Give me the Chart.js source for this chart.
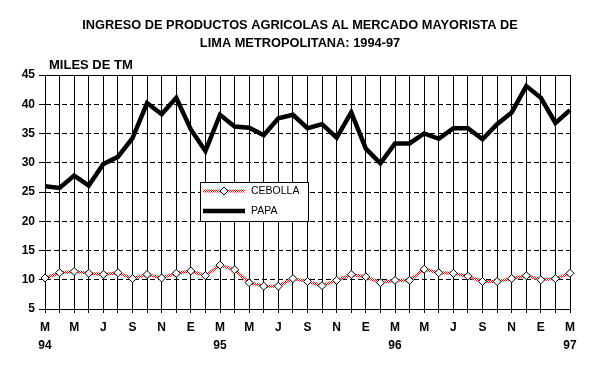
<!DOCTYPE html>
<html>
<head>
<meta charset="utf-8">
<script src="https://cdn.jsdelivr.net/npm/chart.js@4.4.1/dist/chart.umd.min.js"></script>
<style>
  html, body { margin: 0; padding: 0; background: #fff; }
  #wrap { width: 600px; height: 372px; position: relative; }
</style>
</head>
<body>
<div id="wrap"><canvas id="chart" width="600" height="372"></canvas></div>
<script>
// Monthly data, March 1994 - March 1997 (miles de TM)
const titleLines = ['INGRESO DE PRODUCTOS AGRICOLAS AL MERCADO MAYORISTA DE', 'LIMA METROPOLITANA: 1994-97'];
const yAxisTitle = 'MILES DE TM';
const monthLetters = ['M', 'A', 'M', 'J', 'J', 'A', 'S', 'O', 'N', 'D', 'E', 'F',
                      'M', 'A', 'M', 'J', 'J', 'A', 'S', 'O', 'N', 'D', 'E', 'F',
                      'M', 'A', 'M', 'J', 'J', 'A', 'S', 'O', 'N', 'D', 'E', 'F', 'M'];
const yearLabels = { 0: '94', 12: '95', 24: '96', 36: '97' };

const cebolla = [10.3, 11.2, 11.4, 11.1, 10.9, 11.2, 10.2, 10.9, 10.3, 11.1, 11.5, 10.7,
                 12.5, 11.7, 9.5, 8.9, 8.9, 10.2, 9.7, 9.0, 9.9, 10.9, 10.5, 9.5,
                 9.9, 9.9, 11.8, 11.2, 11.1, 10.6, 9.7, 9.7, 10.2, 10.7, 10.0, 10.2, 11.1];
const papa = [26.0, 25.7, 27.8, 26.1, 29.8, 31.0, 34.2, 40.2, 38.3, 41.1, 35.7, 32.0,
              38.2, 36.2, 36.0, 34.7, 37.6, 38.2, 35.9, 36.6, 34.3, 38.6, 32.4, 29.9,
              33.3, 33.3, 35.0, 34.1, 35.9, 35.9, 34.0, 36.6, 38.6, 43.1, 41.1, 36.8, 39.0];

const yMin = 5, yMax = 45, yStep = 5;

// red/white checker pattern like the original dithered line
function checker() {
    const c = document.createElement('canvas');
    c.width = 2; c.height = 2;
    const g = c.getContext('2d');
    g.fillStyle = '#fff'; g.fillRect(0, 0, 2, 2);
    g.fillStyle = '#ff0000';
    g.fillRect(0, 0, 1, 1); g.fillRect(1, 1, 1, 1);
    return g.createPattern(c, 'repeat');
}

const labels = monthLetters.map((m, i) => yearLabels[i] ? [m, yearLabels[i]] : m);

// titles and the legend box drawn on the canvas
const decorations = {
    id: 'decorations',
    afterDraw(chart) {
        const ctx = chart.ctx;
        ctx.save();
        ctx.fillStyle = '#000';
        ctx.textAlign = 'center';
        ctx.textBaseline = 'middle';
        ctx.font = 'bold 12.8px "Liberation Sans", Arial, sans-serif';
        ctx.fillText(titleLines[0], 300, 25);
        ctx.fillText(titleLines[1], 300, 43);
        ctx.textAlign = 'left';
        ctx.font = 'bold 13px "Liberation Sans", Arial, sans-serif';
        ctx.fillText(yAxisTitle, 49, 65);

        // legend
        const bx = 200, by = 182, bw = 108, bh = 39;
        ctx.fillStyle = '#fff';
        ctx.fillRect(bx, by, bw, bh);
        ctx.strokeStyle = '#000';
        ctx.lineWidth = 1;
        ctx.strokeRect(bx + 0.5, by + 0.5, bw, bh);
        const ds = chart.data.datasets;
        const rows = [191, 211];
        ds.forEach((d, i) => {
            const y = rows[i];
            ctx.strokeStyle = d.borderColor;
            ctx.lineWidth = d.borderWidth;
            ctx.beginPath();
            ctx.moveTo(203, y);
            ctx.lineTo(245, y);
            ctx.stroke();
            if (d.pointRadius > 0) {
                ctx.fillStyle = '#fff';
                ctx.strokeStyle = '#000';
                ctx.lineWidth = 1;
                const r = d.pointRadius;
                ctx.beginPath();
                ctx.moveTo(224, y - r); ctx.lineTo(224 + r, y);
                ctx.lineTo(224, y + r); ctx.lineTo(224 - r, y);
                ctx.closePath();
                ctx.fill(); ctx.stroke();
            }
            ctx.fillStyle = '#000';
            ctx.font = '10.5px "Liberation Sans", Arial, sans-serif';
            ctx.fillText(d.label, 251, y + 0.5);
        });
        ctx.restore();
    }
};

new Chart(document.getElementById('chart').getContext('2d'), {
    type: 'line',
    data: {
        labels: labels,
        datasets: [{
            label: 'CEBOLLA',
            data: cebolla,
            borderColor: checker(),
            borderWidth: 3,
            tension: 0,
            pointStyle: 'rectRot',
            pointRadius: 4,
            pointBackgroundColor: '#fff',
            pointBorderColor: '#000',
            pointBorderWidth: 1
        }, {
            label: 'PAPA',
            data: papa,
            borderColor: '#000',
            borderWidth: 4.5,
            tension: 0,
            pointRadius: 0,
            borderJoinStyle: 'miter'
        }]
    },
    options: {
        responsive: false,
        animation: false,
        layout: { padding: { top: 75, right: 30, left: 0, bottom: 0 } },
        plugins: {
            legend: { display: false },
            title: { display: false },
            tooltip: { enabled: false }
        },
        scales: {
            x: {
                offset: false,
                grid: { color: '#000', lineWidth: 1, tickLength: 4, tickColor: '#000' },
                border: { color: '#000', width: 1 },
                ticks: {
                    autoSkip: false,
                    maxRotation: 0,
                    padding: 6,
                    color: '#000',
                    font: { family: '"Liberation Sans", Arial, sans-serif', size: 12, weight: 'bold', lineHeight: 1.5 },
                    callback: function (value, index) {
                        return index % 2 === 0 ? this.getLabelForValue(value) : '';
                    }
                },
                afterFit: s => { s.height = 63; }
            },
            y: {
                min: yMin,
                max: yMax,
                grid: {
                    color: '#000', lineWidth: 1, tickLength: 6, tickColor: '#000', tickBorderDash: []
                },
                border: {
                    color: '#000', width: 1,
                    dash: ctx => (ctx.tick && ctx.tick.value !== yMin && ctx.tick.value !== yMax) ? [5, 3] : []
                },
                ticks: {
                    stepSize: yStep,
                    padding: 4,
                    color: '#000',
                    font: { family: '"Liberation Sans", Arial, sans-serif', size: 12, weight: 'bold' }
                },
                afterFit: s => { s.width = 45; }
            }
        }
    },
    plugins: [decorations]
});
</script>
</body>
</html>
